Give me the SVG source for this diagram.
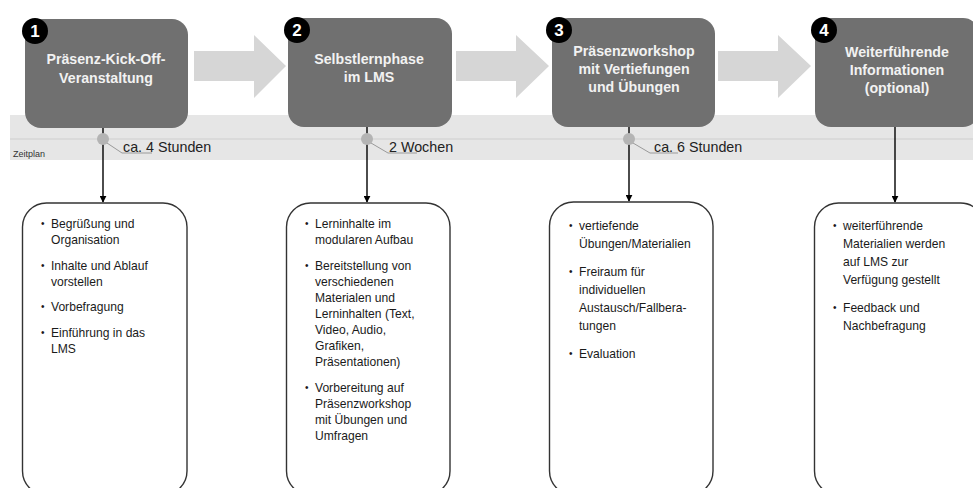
<svg xmlns="http://www.w3.org/2000/svg" width="973" height="488" viewBox="0 0 973 488">
<style>
.band{fill:#e6e6e6}
.bandline{stroke:#cdcdcd;stroke-width:1.2;fill:none}
.flow{fill:#d6d6d6}
.step{fill:#707070}
.badge{fill:#000}
.badgenum{fill:#fff;font-family:"Liberation Sans",Arial,sans-serif;font-weight:bold;font-size:17px;text-anchor:middle}
.title{fill:#f2f2f2;font-family:"Liberation Sans",Arial,sans-serif;font-weight:bold;font-size:14.2px;text-anchor:middle}
.conn{stroke:#000;stroke-width:1.4;fill:none}
.dot{fill:#b4b4b4}
.leader{stroke:#9a9a9a;stroke-width:1;fill:none}
.dur{fill:#222;font-family:"Liberation Sans",Arial,sans-serif;font-size:14.3px}
.card{fill:#fff;stroke:#333;stroke-width:1.4}
.item{fill:#1a1a1a;font-family:"Liberation Sans",Arial,sans-serif;font-size:12.1px}
.bul{fill:#1a1a1a;font-family:"Liberation Sans",Arial,sans-serif;font-size:10px}
.small{fill:#333;font-family:"Liberation Sans",Arial,sans-serif;font-size:9px}
</style>
<defs>
<marker id="ah" viewBox="0 0 10 10" refX="9" refY="5" markerWidth="7" markerHeight="7" markerUnits="userSpaceOnUse" orient="auto">
<path d="M0,0 L10,5 L0,10 z" fill="#000"/>
</marker>
</defs>

<g id="timeline">
<rect class="band" x="10" y="115" width="963" height="45"/>
<line class="bandline" x1="10" y1="139" x2="973" y2="139"/>
<text class="small" x="13" y="157">Zeitplan</text>
</g>

<g id="flow-arrows">
<polygon class="flow" points="194,51 254,51 254,35 286,66 254,98 254,81 194,81"/>
<polygon class="flow" points="456,51 516,51 516,35 549,66 516,98 516,81 456,81"/>
<polygon class="flow" points="718,51 778,51 778,35 811,66 778,98 778,81 718,81"/>
</g>

<g id="connectors">
<line class="conn" x1="103" y1="128" x2="103" y2="202" marker-end="url(#ah)"/>
<line class="conn" x1="367" y1="127" x2="367" y2="202" marker-end="url(#ah)"/>
<line class="conn" x1="629" y1="127" x2="629" y2="201" marker-end="url(#ah)"/>
<line class="conn" x1="895" y1="127" x2="895" y2="202" marker-end="url(#ah)"/>
</g>

<g id="step1">
<rect class="step" x="25" y="19" width="163" height="109" rx="16"/>
<circle class="badge" cx="35" cy="31" r="13"/>
<text class="badgenum" x="35" y="37">1</text>
<text class="title" x="106" y="64">Präsenz-Kick-Off-</text>
<text class="title" x="106" y="83">Veranstaltung</text>
</g>
<g id="step2">
<rect class="step" x="288" y="18" width="164" height="109" rx="16"/>
<circle class="badge" cx="297" cy="30" r="13"/>
<text class="badgenum" x="297" y="36">2</text>
<text class="title" x="369" y="64">Selbstlernphase</text>
<text class="title" x="369" y="82">im LMS</text>
</g>
<g id="step3">
<rect class="step" x="552" y="18" width="163" height="109" rx="16"/>
<circle class="badge" cx="559" cy="30" r="13"/>
<text class="badgenum" x="559" y="36">3</text>
<text class="title" x="634" y="56">Präsenzworkshop</text>
<text class="title" x="634" y="74">mit Vertiefungen</text>
<text class="title" x="634" y="92">und Übungen</text>
</g>
<g id="step4">
<rect class="step" x="815" y="18" width="164" height="109" rx="16"/>
<circle class="badge" cx="824" cy="30" r="13"/>
<text class="badgenum" x="824" y="36">4</text>
<text class="title" x="897" y="57">Weiterführende</text>
<text class="title" x="897" y="75">Informationen</text>
<text class="title" x="897" y="93">(optional)</text>
</g>

<g id="duration1">
<circle class="dot" cx="103" cy="139" r="6"/>
<polyline class="leader" points="107,143 122,153 152,153"/>
<text class="dur" x="123" y="152">ca. 4 Stunden</text>
</g>
<g id="duration2">
<circle class="dot" cx="367" cy="139" r="6"/>
<polyline class="leader" points="371,143 388,153 417,153"/>
<text class="dur" x="389" y="152">2 Wochen</text>
</g>
<g id="duration3">
<circle class="dot" cx="629" cy="139" r="6"/>
<polyline class="leader" points="633,143 650,153 678,153"/>
<text class="dur" x="654" y="152">ca. 6 Stunden</text>
</g>

<g id="details1">
<rect class="card" x="22.5" y="203" width="164.5" height="292" rx="24"/>
<text class="bul" x="41" y="227">•</text><text class="item" x="51" y="228">Begrüßung und</text>
<text class="item" x="51" y="244">Organisation</text>
<text class="bul" x="41" y="269">•</text><text class="item" x="51" y="270">Inhalte und Ablauf</text>
<text class="item" x="51" y="286">vorstellen</text>
<text class="bul" x="41" y="310">•</text><text class="item" x="51" y="311">Vorbefragung</text>
<text class="bul" x="41" y="336">•</text><text class="item" x="51" y="337">Einführung in das</text>
<text class="item" x="51" y="353">LMS</text>
</g>
<g id="details2">
<rect class="card" x="286.5" y="203" width="163.5" height="292" rx="24"/>
<text class="bul" x="305" y="227">•</text><text class="item" x="315" y="228">Lerninhalte im</text>
<text class="item" x="315" y="244">modularen Aufbau</text>
<text class="bul" x="305" y="269">•</text><text class="item" x="315" y="270">Bereitstellung von</text>
<text class="item" x="315" y="286">verschiedenen</text>
<text class="item" x="315" y="302">Materialen und</text>
<text class="item" x="315" y="318">Lerninhalten (Text,</text>
<text class="item" x="315" y="334">Video, Audio,</text>
<text class="item" x="315" y="350">Grafiken,</text>
<text class="item" x="315" y="366">Präsentationen)</text>
<text class="bul" x="305" y="391">•</text><text class="item" x="315" y="392">Vorbereitung auf</text>
<text class="item" x="315" y="408">Präsenzworkshop</text>
<text class="item" x="315" y="424">mit Übungen und</text>
<text class="item" x="315" y="440">Umfragen</text>
</g>
<g id="details3">
<rect class="card" x="549.5" y="202" width="163.5" height="293" rx="24"/>
<text class="bul" x="569" y="229">•</text><text class="item" x="579" y="230">vertiefende</text>
<text class="item" x="579" y="248">Übungen/Materialien</text>
<text class="bul" x="569" y="275">•</text><text class="item" x="579" y="276">Freiraum für</text>
<text class="item" x="579" y="294">individuellen</text>
<text class="item" x="579" y="312">Austausch/Fallbera-</text>
<text class="item" x="579" y="330">tungen</text>
<text class="bul" x="569" y="357">•</text><text class="item" x="579" y="358">Evaluation</text>
</g>
<g id="details4">
<rect class="card" x="814.5" y="203" width="170" height="292" rx="24"/>
<text class="bul" x="833" y="229">•</text><text class="item" x="843" y="230">weiterführende</text>
<text class="item" x="843" y="248">Materialien werden</text>
<text class="item" x="843" y="266">auf LMS zur</text>
<text class="item" x="843" y="284">Verfügung gestellt</text>
<text class="bul" x="833" y="311">•</text><text class="item" x="843" y="312">Feedback und</text>
<text class="item" x="843" y="330">Nachbefragung</text>
</g>
</svg>
